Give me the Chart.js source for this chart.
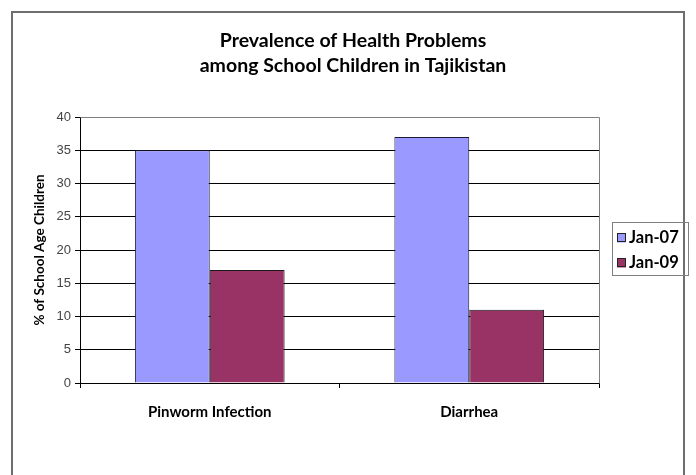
<!DOCTYPE html>
<html>
<head>
<meta charset="utf-8">
<style>
  html, body { margin: 0; padding: 0; background: #fff; }
  #wrap { width: 696px; height: 475px; }
</style>
<script src="https://cdn.jsdelivr.net/npm/chart.js@4/dist/chart.umd.min.js"></script>
</head>
<body>
<div id="wrap"><canvas id="c" width="696" height="475"></canvas></div>
<script>
// Survey results: share of school-age children with each problem
const categories = ['Pinworm Infection', 'Diarrhea'];
const seriesNames = ['Jan-07', 'Jan-09'];
const jan07 = [35, 37];
const jan09 = [17, 11];
const yTicks = [0, 5, 10, 15, 20, 25, 30, 35, 40];

const titleLines = ['Prevalence of Health Problems', 'among School Children in Tajikistan'];
const yAxisTitle = '% of School Age Children';

const colors = ['#9999FF', '#993366'];
const gillLike = "Lato, 'Open Sans', sans-serif";

// Outer frame around the whole chart
const framePlugin = {
  id: 'frame',
  beforeDraw(chart) {
    const ctx = chart.ctx;
    ctx.save();
    ctx.fillStyle = '#fff';
    ctx.fillRect(0, 0, chart.width, chart.height);
    ctx.strokeStyle = '#6e6e6e';
    ctx.lineWidth = 2;
    ctx.strokeRect(12, 12, chart.width - 24, chart.height + 10);
    ctx.restore();
  }
};

// Grey border on the top and right sides of the plot area
const plotBorderPlugin = {
  id: 'plotBorder',
  afterDatasetsDraw(chart) {
    const a = chart.chartArea;
    const ctx = chart.ctx;
    ctx.save();
    ctx.strokeStyle = '#808080';
    ctx.lineWidth = 1;
    ctx.beginPath();
    ctx.moveTo(Math.round(a.left) + 0.5, Math.round(a.top) + 0.5);
    ctx.lineTo(Math.round(a.right) + 0.5, Math.round(a.top) + 0.5);
    ctx.lineTo(Math.round(a.right) + 0.5, Math.round(a.bottom) + 0.5);
    ctx.stroke();
    ctx.restore();
  }
};

// Boxed legend at the right, built from the datasets
const boxLegendPlugin = {
  id: 'boxLegend',
  afterDraw(chart) {
    const ctx = chart.ctx;
    const x = 612.5, y = 222.5, w = 76, h = 53;
    ctx.save();
    ctx.strokeStyle = '#808080';
    ctx.lineWidth = 1;
    ctx.strokeRect(x, y, w, h);
    ctx.font = "bold 16.5px " + gillLike;
    ctx.textBaseline = 'middle';
    chart.data.datasets.forEach((ds, i) => {
      const cy = 238 + i * 25;
      ctx.fillStyle = ds.backgroundColor;
      ctx.fillRect(617, cy - 4.5, 9, 9);
      ctx.strokeStyle = '#222';
      ctx.strokeRect(617.5, cy - 4.5, 8, 8);
      ctx.fillStyle = '#000';
      ctx.fillText(ds.label, 629, cy);
    });
    ctx.restore();
  }
};

new Chart(document.getElementById('c'), {
  type: 'bar',
  data: {
    labels: categories,
    datasets: [
      { label: seriesNames[0], data: jan07, backgroundColor: colors[0], borderColor: '#1a1a33', borderWidth: 1 },
      { label: seriesNames[1], data: jan09, backgroundColor: colors[1], borderColor: '#1a1a1a', borderWidth: 1 }
    ]
  },
  options: {
    responsive: false,
    animation: false,
    events: [],
    layout: { padding: { left: 10, right: 0, top: 0, bottom: 0 } },
    datasets: { bar: { categoryPercentage: 0.577, barPercentage: 1.0 } },
    plugins: {
      legend: { display: false },
      tooltip: { enabled: false },
      title: {
        display: true,
        text: titleLines,
        color: '#000',
        font: { family: gillLike, size: 19.5, weight: 'bold', lineHeight: '25px' },
        padding: { top: 28, bottom: 39 }
      }
    },
    scales: {
      x: {
        afterFit(scale) { scale.height = 92; },
        grid: { display: true, drawOnChartArea: false, drawTicks: true, tickLength: 5, color: '#000', offset: true },
        border: { display: true, color: '#000', width: 1 },
        ticks: { color: '#000', font: { family: gillLike, size: 15, weight: 'bold' }, padding: 15 }
      },
      y: {
        min: 0,
        max: 40,
        afterFit(scale) { scale.width = 70; },
        afterBuildTicks(scale) { scale.ticks = yTicks.map(v => ({ value: v })); },
        grid: {
          color: ctx => (ctx.tick && ctx.tick.value === 40 ? '#808080' : '#000'),
          tickColor: '#000',
          tickLength: 5,
          drawTicks: true
        },
        border: { display: true, color: '#000', width: 1 },
        ticks: { color: '#444', font: { family: "'Liberation Sans', Arial, sans-serif", size: 13 }, padding: 4 },
        title: {
          display: true,
          text: yAxisTitle,
          color: '#000',
          font: { family: gillLike, size: 13.5, weight: 'bold' },
          padding: { top: 22, bottom: 0 }
        }
      },
      // Reserves the strip on the right where the boxed legend sits
      legendSpace: {
        type: 'linear',
        position: 'right',
        display: true,
        afterFit(scale) { scale.width = 97; },
        grid: { display: false, drawTicks: false },
        border: { display: false },
        ticks: { display: false }
      }
    }
  },
  plugins: [framePlugin, plotBorderPlugin, boxLegendPlugin]
});
</script>
</body>
</html>
